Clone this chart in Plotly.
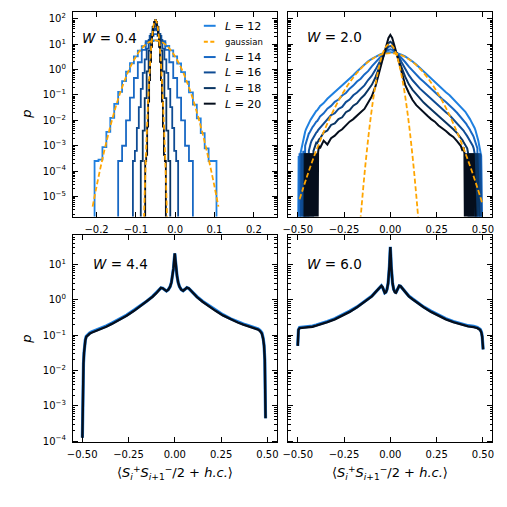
import plotly.graph_objects as go

W_PX = H_PX = 507
def px(v): return v / W_PX
def py(v): return 1 - v / H_PX

# ---------------- colours ----------------
col = {12: "#1f80e0", 14: "#1868c4", 16: "#0f4c94", 18: "#0a3563", 20: "#050e1c"}
orange = "#ffa500"

# ---------------- W = 0.4 (top-left), log10 p ----------------
x_tl_L12 = [-0.21, -0.20, -0.19, -0.18, -0.17, -0.16, -0.15, -0.14, -0.13, -0.12, -0.11, -0.10, -0.09,
            -0.08, -0.07, -0.06, -0.05, -0.04, -0.03, -0.02, -0.01, 0.00, 0.01, 0.02, 0.03, 0.04, 0.05,
            0.06, 0.07, 0.08, 0.09, 0.10, 0.11]
lp_tl_L12 = [-9, -3.6, -3.55, -3.05, -2.45, -1.9, -1.35, -0.88, -0.45, -0.08, 0.25, 0.52, 0.75, 0.92,
             1.05, 1.12, 1.15, 1.12, 1.05, 0.93, 0.76, 0.52, 0.24, -0.1, -0.47, -0.9, -1.38, -1.92,
             -2.5, -3.1, -3.6, -3.6, -9]
x_tl_L14 = [-0.15, -0.14, -0.13, -0.12, -0.11, -0.10, -0.09, -0.08, -0.07, -0.06, -0.05, -0.04, -0.03,
            -0.02, -0.01, 0.00, 0.01, 0.02, 0.03, 0.04, 0.05]
lp_tl_L14 = [-9, -3.6, -3.0, -2.0, -1.1, -0.33, 0.29, 0.78, 1.12, 1.33, 1.4, 1.33, 1.12, 0.78, 0.29,
             -0.33, -1.1, -2.0, -3.0, -3.6, -9]
x_tl_L16 = [-0.110, -0.105, -0.100, -0.095, -0.090, -0.085, -0.080, -0.075, -0.070, -0.065, -0.060,
            -0.055, -0.050, -0.045, -0.040, -0.035, -0.030, -0.025, -0.020, -0.015, -0.010, -0.005,
            0.000, 0.005, 0.010]
lp_tl_L16 = [-9, -3.6, -3.2, -2.3, -1.48, -0.76, -0.13, 0.40, 0.83, 1.17, 1.41, 1.55, 1.6, 1.55, 1.41,
             1.17, 0.83, 0.40, -0.13, -0.76, -1.48, -2.3, -3.2, -3.6, -9]
x_tl_L18 = [-0.090, -0.085, -0.080, -0.075, -0.070, -0.065, -0.060, -0.055, -0.050, -0.045, -0.040,
            -0.035, -0.030, -0.025, -0.020, -0.015, -0.010]
lp_tl_L18 = [-9, -3.6, -2.4, -1.12, -0.07, 0.75, 1.33, 1.68, 1.8, 1.68, 1.33, 0.75, -0.07, -1.12, -2.4,
             -3.6, -9]
x_tl_L20 = [-0.0775, -0.0750, -0.0725, -0.0700, -0.0675, -0.0650, -0.0625, -0.0600, -0.0575, -0.0550,
            -0.0525, -0.0500, -0.0475, -0.0450, -0.0425, -0.0400, -0.0375, -0.0350, -0.0325, -0.0300,
            -0.0275, -0.0250, -0.0225]
lp_tl_L20 = [-9, -3.6, -3.36, -2.25, -1.26, -0.41, 0.31, 0.9, 1.36, 1.69, 1.88, 1.95, 1.88, 1.69, 1.36,
             0.9, 0.31, -0.41, -1.26, -2.25, -3.36, -3.6, -9]
x_tl_gw = x_tl_L12
lp_tl_gw = [-5.40, -4.61, -3.87, -3.18, -2.54, -1.95, -1.41, -0.92, -0.49, -0.10, 0.23, 0.51, 0.74, 0.92,
            1.05, 1.12, 1.15, 1.12, 1.05, 0.92, 0.74, 0.51, 0.23, -0.10, -0.49, -0.92, -1.41, -1.95,
            -2.54, -3.18, -3.87, -4.61, -5.40]
x_tl_gn = [-0.0800, -0.0775, -0.0750, -0.0725, -0.0700, -0.0675, -0.0650, -0.0625, -0.0600, -0.0575,
           -0.0550, -0.0525, -0.0500, -0.0475, -0.0450, -0.0425, -0.0400, -0.0375, -0.0350, -0.0325,
           -0.0300, -0.0275, -0.0250, -0.0225, -0.0200]
lp_tl_gn = [-6.15, -4.86, -3.68, -2.61, -1.65, -0.81, -0.08, 0.54, 1.05, 1.44, 1.73, 1.89, 1.95, 1.89,
            1.73, 1.44, 1.05, 0.54, -0.08, -0.81, -1.65, -2.61, -3.68, -4.86, -6.15]

# ---------------- W = 2.0 (top-right), log10 p ----------------
x_w2_half = [0, 0.01, 0.02, 0.03, 0.04, 0.05, 0.06, 0.08, 0.10, 0.12, 0.14, 0.16, 0.18, 0.20, 0.22,
             0.24, 0.26, 0.28, 0.30, 0.32, 0.34, 0.36, 0.38, 0.385, 0.39, 0.395, 0.40, 0.405, 0.41,
             0.415, 0.42, 0.425, 0.43, 0.435, 0.44, 0.445, 0.45, 0.455, 0.46, 0.465, 0.47, 0.475,
             0.48, 0.485, 0.49, 0.495, 0.50]
# right: |x| = 0 ... 0.5 ; left: |x| = 0.01 ... 0.5
lp_w2 = {
    12: dict(
        right=[0.68, 0.68, 0.67, 0.66, 0.64, 0.62, 0.59,
               0.52, 0.43, 0.32, 0.2, 0.06, -0.08, -0.22, -0.36, -0.5, -0.63, -0.76, -0.89, -1.01, -1.16, -1.3, -1.45,
               -1.49, -1.53, -1.58, -1.62, -1.66, -1.72, -1.77, -1.83, -1.9, -1.95, -2.02, -2.08, -2.15, -2.22,
               -2.3, -2.4, -2.52, -2.65, -2.8, -3.0, -3.2, -3.4, -9, -9],
        left=[0.68, 0.67, 0.66, 0.64, 0.62, 0.59,
              0.51, 0.42, 0.33, 0.2, 0.07, -0.07, -0.22, -0.35, -0.5, -0.62, -0.77, -0.88, -1.02, -1.15, -1.32, -1.44,
              -1.5, -1.52, -1.6, -1.63, -1.67, -1.74, -1.78, -1.85, -1.91, -1.97, -2.04, -2.1, -2.18, -2.25,
              -2.34, -2.45, -2.6, -2.75, -2.95, -3.1, -3.3, -9, -3.4, -9]),
    14: dict(
        right=[0.8, 0.78, 0.74, 0.68, 0.62, 0.55, 0.46,
               0.3, 0.12, -0.05, -0.2, -0.35, -0.48, -0.62, -0.76, -0.9, -1.03, -1.16, -1.28, -1.4, -1.55, -1.7, -1.86,
               -1.9, -1.95, -2.0, -2.04, -2.1, -2.14, -2.2, -2.25, -2.32, -2.37, -2.45, -2.5, -2.58, -2.65,
               -2.75, -2.85, -3.0, -3.1, -9, -3.3, -9, -3.35, -9, -9],
        left=[0.78, 0.74, 0.68, 0.62, 0.55, 0.46,
              0.29, 0.13, -0.06, -0.19, -0.36, -0.47, -0.63, -0.75, -0.92, -1.02, -1.18, -1.27, -1.43, -1.54, -1.72, -1.85,
              -1.92, -1.94, -2.03, -2.05, -2.12, -2.15, -2.22, -2.26, -2.35, -2.38, -2.47, -2.52, -2.62, -2.7,
              -2.85, -3.0, -9, -3.2, -9, -3.3, -9, -3.3, -9, -9]),
    16: dict(
        right=[0.93, 0.9, 0.8, 0.69, 0.58, 0.45, 0.3,
               0.02, -0.22, -0.42, -0.6, -0.75, -0.88, -1.02, -1.15, -1.3, -1.43, -1.56, -1.68, -1.8, -1.95, -2.1, -2.27,
               -2.3, -2.36, -2.4, -2.46, -2.5, -2.56, -2.62, -2.68, -2.74, -2.8, -2.88, -2.95, -3.0, -3.1,
               -3.3, -9, -3.3, -9, -3.3, -9, -3.3, -9, -9, -9],
        left=[0.9, 0.8, 0.69, 0.58, 0.45, 0.3,
              0.0, -0.24, -0.41, -0.62, -0.74, -0.9, -1.01, -1.18, -1.28, -1.47, -1.55, -1.72, -1.79, -1.98, -2.12, -2.3,
              -2.34, -2.38, -2.45, -2.48, -2.55, -2.6, -2.68, -2.72, -2.8, -2.9, -3.0, -3.2, -9, -3.3,
              -9, -3.3, -9, -3.3, -9, -3.3, -9, -9, -9, -9]),
    18: dict(
        right=[1.1, 1.04, 0.88, 0.7, 0.52, 0.32, 0.1,
               -0.28, -0.58, -0.8, -0.98, -1.15, -1.3, -1.43, -1.56, -1.7, -1.83, -1.96, -2.08, -2.2, -2.35, -2.5, -2.68,
               -2.7, -2.78, -2.85, -2.9, -2.95, -3.0, -3.1, -3.3, -9, -3.3, -9, -3.3, -9, -3.3,
               -9, -3.3, -9, -3.3, -9, -9, -9, -9, -9, -9],
        left=[1.04, 0.88, 0.7, 0.52, 0.32, 0.1,
              -0.3, -0.6, -0.79, -1.0, -1.14, -1.33, -1.42, -1.6, -1.68, -1.88, -1.95, -2.12, -2.18, -2.4, -2.48, -2.72,
              -2.75, -2.8, -2.9, -2.88, -3.0, -3.1, -3.2, -9, -3.3, -9, -3.3, -9, -3.3, -9,
              -3.3, -9, -3.3, -9, -9, -9, -9, -9, -9, -9]),
    20: dict(
        right=[1.37, 1.25, 1.0, 0.72, 0.45, 0.15, -0.15,
               -0.6, -0.92, -1.2, -1.4, -1.55, -1.7, -1.82, -1.95, -2.05, -2.2, -2.3, -2.42, -2.55, -2.65, -2.82, -3.0,
               -3.1, -3.2, -3.05, -3.3, -9, -3.3, -9, -3.3, -9, -3.3, -9, -3.3, -9, -3.3,
               -9, -9, -9, -9, -9, -9, -9, -9, -9, -9],
        left=[1.25, 1.0, 0.72, 0.45, 0.15, -0.15,
              -0.65, -1.05, -1.3, -1.55, -1.68, -1.8, -1.95, -2.05, -2.2, -2.35, -2.45, -2.6, -2.7, -2.95, -2.8, -3.1,
              -3.0, -3.25, -9, -3.3, -9, -3.3, -9, -3.3, -9, -3.3, -9, -3.3, -9, -3.3,
              -9, -3.3, -9, -9, -9, -9, -9, -9, -9, -9]),
}
x_tr_gw = [-0.49, -0.45, -0.40, -0.35, -0.30, -0.25, -0.20, -0.15, -0.10, -0.05, 0.0, 0.05, 0.10, 0.15,
           0.20, 0.25, 0.30, 0.35, 0.40, 0.45, 0.495]
lp_tr_gw = [-5.11, -4.21, -3.19, -2.29, -1.51, -0.85, -0.31, 0.11, 0.41, 0.59, 0.65, 0.59, 0.41, 0.11,
            -0.31, -0.85, -1.51, -2.29, -3.19, -4.21, -5.23]
x_tr_gn = [-0.165, -0.155, -0.145, -0.135, -0.125, -0.115, -0.105, -0.095, -0.085, -0.075, -0.065,
           -0.055, -0.045, -0.035, -0.025, -0.015, -0.005, 0.005, 0.015, 0.025, 0.035, 0.045, 0.055,
           0.065, 0.075, 0.085, 0.095, 0.105, 0.115, 0.125, 0.135, 0.145, 0.155]
lp_tr_gn = [-6.24, -5.37, -4.55, -3.78, -3.08, -2.42, -1.83, -1.29, -0.81, -0.39, -0.02, 0.29, 0.55, 0.75,
            0.89, 0.97, 1.0, 0.97, 0.89, 0.75, 0.55, 0.29, -0.02, -0.39, -0.81, -1.29, -1.83, -2.42,
            -3.08, -3.78, -4.55, -5.37, -6.24]

# ---------------- W = 4.4 (bottom-left), log10 p ----------------
x_bl = [-0.499, -0.498, -0.496, -0.493, -0.49, -0.487, -0.483, -0.478, -0.47, -0.46, -0.45, -0.43, -0.40,
        -0.37, -0.34, -0.30, -0.26, -0.22, -0.18, -0.15, -0.12, -0.10, -0.085, -0.075, -0.065, -0.055,
        -0.045, -0.035, -0.025, -0.018, -0.012, -0.007, -0.003, 0.0, 0.003, 0.007, 0.012, 0.018, 0.025,
        0.035, 0.045, 0.055, 0.065, 0.075, 0.085, 0.10, 0.12, 0.15, 0.18, 0.22, 0.26, 0.30, 0.34, 0.37,
        0.40, 0.43, 0.45, 0.46, 0.47, 0.477, 0.482, 0.486, 0.488, 0.489, 0.490]
lp_bl_L20 = [-3.9, -3.0, -2.3, -1.8, -1.5, -1.3, -1.15, -1.05, -1.0, -0.96, -0.93, -0.89, -0.83, -0.76,
             -0.68, -0.57, -0.45, -0.31, -0.16, -0.04, 0.09, 0.19, 0.28, 0.34, 0.33, 0.28, 0.25, 0.29,
             0.38, 0.5, 0.68, 0.9, 1.15, 1.32, 1.15, 0.9, 0.68, 0.5, 0.38, 0.29, 0.26, 0.3, 0.35, 0.33,
             0.27, 0.18, 0.08, -0.05, -0.17, -0.31, -0.44, -0.55, -0.64, -0.7, -0.75, -0.8, -0.84, -0.88,
             -0.95, -1.1, -1.3, -1.7, -2.2, -2.8, -3.35]
lp_bl_L12 = [-3.9, -3.0, -2.3, -1.8, -1.5, -1.28, -1.13, -1.03, -0.98, -0.94, -0.91, -0.87, -0.81, -0.74,
             -0.66, -0.55, -0.43, -0.29, -0.15, -0.03, 0.1, 0.2, 0.29, 0.34, 0.33, 0.28, 0.25, 0.29,
             0.38, 0.5, 0.68, 0.9, 1.15, 1.32, 1.15, 0.9, 0.68, 0.5, 0.38, 0.29, 0.26, 0.3, 0.35, 0.33,
             0.27, 0.19, 0.09, -0.04, -0.15, -0.29, -0.42, -0.53, -0.62, -0.68, -0.73, -0.78, -0.82, -0.86,
             -0.93, -1.08, -1.28, -1.7, -2.2, -2.8, -3.35]

# ---------------- W = 6.0 (bottom-right), log10 p ----------------
x_br = [-0.5, -0.498, -0.496, -0.49, -0.47, -0.45, -0.42, -0.40, -0.37, -0.34, -0.30, -0.26, -0.22, -0.18,
        -0.15, -0.12, -0.10, -0.08, -0.065, -0.055, -0.048, -0.042, -0.036, -0.03, -0.024, -0.018, -0.012,
        -0.008, -0.005, -0.002, 0.0, 0.002, 0.005, 0.008, 0.012, 0.018, 0.024, 0.03, 0.036, 0.042, 0.048,
        0.055, 0.065, 0.08, 0.10, 0.12, 0.15, 0.18, 0.22, 0.26, 0.30, 0.34, 0.37, 0.40, 0.42, 0.45, 0.47,
        0.485, 0.492, 0.496, 0.499, 0.501]
lp_br_L20 = [-1.3, -1.0, -0.85, -0.8, -0.79, -0.78, -0.76, -0.73, -0.69, -0.63, -0.55, -0.45, -0.34, -0.21,
             -0.1, 0.02, 0.1, 0.22, 0.32, 0.38, 0.4, 0.36, 0.27, 0.2, 0.22, 0.3, 0.47, 0.7, 0.95, 1.3, 1.5,
             1.3, 0.95, 0.7, 0.47, 0.3, 0.22, 0.2, 0.27, 0.36, 0.4, 0.39, 0.33, 0.22, 0.1, 0.02, -0.1,
             -0.21, -0.34, -0.45, -0.55, -0.63, -0.68, -0.72, -0.75, -0.77, -0.8, -0.85, -0.93, -1.05,
             -1.2, -1.4]
lp_br_L12 = [-1.3, -1.0, -0.84, -0.78, -0.77, -0.76, -0.74, -0.71, -0.67, -0.61, -0.53, -0.43, -0.32, -0.2,
             -0.09, 0.03, 0.11, 0.22, 0.32, 0.38, 0.4, 0.36, 0.27, 0.2, 0.22, 0.3, 0.47, 0.7, 0.95, 1.3, 1.5,
             1.3, 0.95, 0.7, 0.47, 0.3, 0.22, 0.2, 0.27, 0.36, 0.4, 0.39, 0.33, 0.23, 0.11, 0.03, -0.09,
             -0.2, -0.32, -0.43, -0.53, -0.61, -0.66, -0.7, -0.73, -0.75, -0.78, -0.83, -0.91, -1.03,
             -1.2, -1.4]

L_values = [12, 14, 16, 18, 20]
W_labels = ["0.4", "2.0", "4.4", "6.0"]

# ---------------- checks ----------------
assert len(x_tl_L12) == len(lp_tl_L12) == len(lp_tl_gw)
assert len(x_tl_L14) == len(lp_tl_L14)
assert len(x_tl_L16) == len(lp_tl_L16)
assert len(x_tl_L18) == len(lp_tl_L18)
assert len(x_tl_L20) == len(lp_tl_L20)
assert len(x_tl_gn) == len(lp_tl_gn)
assert len(x_tr_gw) == len(lp_tr_gw)
assert len(x_tr_gn) == len(lp_tr_gn)
for L in L_values:
    assert len(lp_w2[L]["right"]) == len(x_w2_half), (L, "right", len(lp_w2[L]["right"]))
    assert len(lp_w2[L]["left"]) == len(x_w2_half) - 1, (L, "left", len(lp_w2[L]["left"]))
assert len(x_bl) == len(lp_bl_L20) == len(lp_bl_L12)
assert len(x_br) == len(lp_br_L20) == len(lp_br_L12)

x_w2 = [-v for v in reversed(x_w2_half[1:])] + list(x_w2_half)

def P(lp):
    return [10.0 ** v for v in lp]

fig = go.Figure()

def add(x, lp, xa, ya, color, width, dash=None, shape="linear", name=""):
    fig.add_trace(go.Scatter(
        x=x, y=P(lp), xaxis=xa, yaxis=ya, mode="lines", name=name, showlegend=False,
        line=dict(color=color, width=width, dash=dash, shape=shape), hoverinfo="skip"))

DASH = "5px,2.6px"

# top-left
tl = {12: (x_tl_L12, lp_tl_L12), 14: (x_tl_L14, lp_tl_L14), 16: (x_tl_L16, lp_tl_L16),
      18: (x_tl_L18, lp_tl_L18), 20: (x_tl_L20, lp_tl_L20)}
for L in L_values:
    add(tl[L][0], tl[L][1], "x", "y", col[L], 1.8, shape="hvh", name=f"L = {L}")
add(x_tl_gw, lp_tl_gw, "x", "y", orange, 1.8, dash=DASH, shape="spline", name="gaussian")
add(x_tl_gn, lp_tl_gn, "x", "y", orange, 1.8, dash=DASH, shape="spline", name="gaussian")

# top-right
for L in L_values:
    vals = list(reversed(lp_w2[L]["left"])) + list(lp_w2[L]["right"])
    add(x_w2, vals, "x2", "y2", col[L], 2.0, name=f"L = {L}")
add(x_tr_gw, lp_tr_gw, "x2", "y2", orange, 1.8, dash=DASH, shape="spline", name="gaussian")
add(x_tr_gn, lp_tr_gn, "x2", "y2", orange, 1.8, dash=DASH, shape="spline", name="gaussian")

# bottom-left / bottom-right
add(x_bl, lp_bl_L12, "x3", "y3", col[12], 3.2, name="L = 12")
add(x_bl, lp_bl_L20, "x3", "y3", col[20], 2.4, name="L = 20")
add(x_br, lp_br_L12, "x4", "y4", col[12], 3.2, name="L = 12")
add(x_br, lp_br_L20, "x4", "y4", col[20], 2.4, name="L = 20")

# ---------------- axes ----------------
tickfont = dict(family="DejaVu Sans", size=10, color="black")
common = dict(showline=True, linecolor="black", linewidth=1, mirror="allticks", ticks="inside",
              ticklen=5, tickwidth=1, tickcolor="black", showgrid=False, zeroline=False,
              tickfont=tickfont)

def minor_vals(lo, hi):
    return [m * 10.0 ** e for e in range(lo, hi) for m in range(2, 10)]

def sup_label(e):
    s = str(e).replace("-", "\u2212")
    return f"10<sup>{s}</sup>"

top_exps = list(range(-5, 3))
bot_exps = list(range(-4, 2))

xl_top = dict(tickmode="array", tickvals=[-0.2, -0.1, 0.0, 0.1, 0.2],
              ticktext=["\u22120.2", "\u22120.1", "0.0", "0.1", "0.2"], range=[-0.26, 0.258])
xw = dict(tickmode="array", tickvals=[-0.5, -0.25, 0.0, 0.25, 0.5],
          ticktext=["\u22120.50", "\u22120.25", "0.00", "0.25", "0.50"], range=[-0.55, 0.55])

dom_l = [px(68), px(275)]
dom_r = [px(287), px(494)]
dom_t = [py(218.3), py(11.7)]
dom_b = [py(446), py(237.3)]

def yax(dom, anchor, rng, exps, labels):
    d = dict(common)
    d.update(domain=dom, anchor=anchor, type="log", range=rng, tickmode="array",
             tickvals=[10.0 ** e for e in exps], ticktext=[sup_label(e) for e in exps],
             showticklabels=labels, ticklabelstandoff=4,
             minor=dict(tickmode="array", tickvals=minor_vals(exps[0] - 1, exps[-1] + 1),
                        ticks="inside", ticklen=2.5, tickwidth=0.8, tickcolor="black", showgrid=False))
    return d

def xax(dom, anchor, spec):
    d = dict(common)
    d.update(domain=dom, anchor=anchor, ticklabelstandoff=3, **spec)
    return d

fig.update_layout(
    width=W_PX, height=H_PX, margin=dict(l=0, r=0, t=0, b=0),
    paper_bgcolor="white", plot_bgcolor="white", showlegend=False,
    xaxis=xax(dom_l, "y", xl_top),
    xaxis2=xax(dom_r, "y2", xw),
    xaxis3=xax(dom_l, "y3", xw),
    xaxis4=xax(dom_r, "y4", xw),
    yaxis=yax(dom_t, "x", [-5.79, 2.285], top_exps, True),
    yaxis2=yax(dom_t, "x2", [-5.79, 2.285], top_exps, False),
    yaxis3=yax(dom_b, "x3", [-4.037, 1.826], bot_exps, True),
    yaxis4=yax(dom_b, "x4", [-4.037, 1.826], bot_exps, False),
)

ann = []
# panel labels
for (xp, yp), wl in zip([(75, 38), (304, 37), (86, 266), (304, 266)], W_labels):
    ann.append(dict(x=px(xp), y=py(yp), xref="paper", yref="paper", xanchor="left", yanchor="middle",
                    text=f"<i>W</i> = {wl}", showarrow=False,
                    font=dict(family="DejaVu Sans", size=13.5, color="black")))
# y titles
for yc in [115, 341.7]:
    ann.append(dict(x=px(20), y=py(yc), xref="paper", yref="paper", xanchor="center", yanchor="middle",
                    text="<i>p</i>", textangle=-90, showarrow=False,
                    font=dict(family="DejaVu Sans", size=13, color="black")))
# x titles
xtitle = ("\u27e8<i>S</i><sub><i>i</i></sub><sup>+</sup><i>S</i><sub><i>i</i>+1</sub><sup>\u2212</sup>"
          "/2 + <i>h.c.</i>\u27e9")
for xc in [171.5, 390.5]:
    ann.append(dict(x=px(xc), y=py(477), xref="paper", yref="paper", xanchor="center", yanchor="middle",
                    text=xtitle, showarrow=False,
                    font=dict(family="DejaVu Sans", size=13, color="black")))

# legend (manual, top-left panel)
legend_items = [("<i>L</i> = 12", col[12], None, 11), ("gaussian", orange, "4px,2.5px", 8.5),
                ("<i>L</i> = 14", col[14], None, 11), ("<i>L</i> = 16", col[16], None, 11),
                ("<i>L</i> = 18", col[18], None, 11), ("<i>L</i> = 20", col[20], None, 11)]
row_y = [26, 42, 57.5, 73, 88.8, 104.5]
shapes = []
for (txt, c, dsh, fs), ry in zip(legend_items, row_y):
    shapes.append(dict(type="line", xref="paper", yref="paper", x0=px(201), x1=px(213),
                       y0=py(ry), y1=py(ry), line=dict(color=c, width=2, dash=dsh)))
    ann.append(dict(x=px(220), y=py(ry + 0.5), xref="paper", yref="paper", xanchor="left",
                    yanchor="middle", text=txt, showarrow=False,
                    font=dict(family="DejaVu Sans", size=fs, color="black")))

fig.update_layout(annotations=ann, shapes=shapes)
fig.write_html("out.html")
